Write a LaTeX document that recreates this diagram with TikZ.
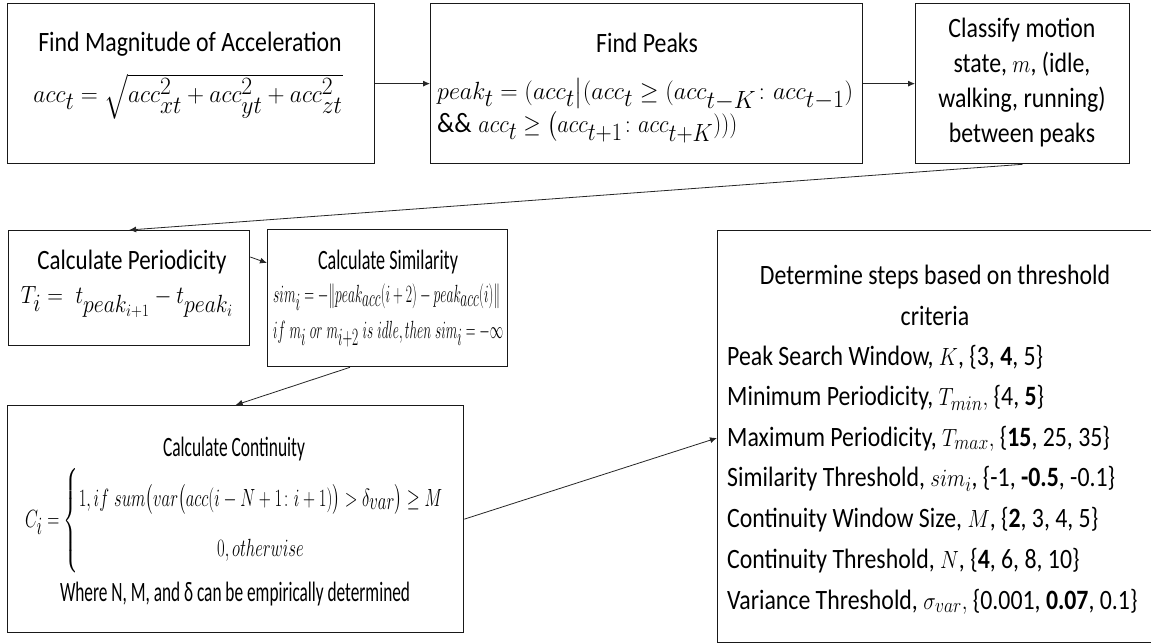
\documentclass[tikz,border=0pt]{standalone}
\usepackage{fontspec}
\setmainfont{Carlito}
\usepackage{amsmath}
\usepackage{graphicx}
\usetikzlibrary{arrows.meta}
\newcommand{\sq}[1]{\scalebox{0.85}[1]{#1}}
\newcommand{\fitw}[2]{\resizebox{#1pt}{\height}{#2}}
\tikzset{
  box/.style={draw=black!90, line width=1.3pt, inner sep=0pt, anchor=north west},
  ln/.style={inner sep=0pt, anchor=base, font=\fontsize{28}{34}\selectfont},
  lnl/.style={ln, anchor=base west},
  mth/.style={font=\fontsize{33}{40}\selectfont},
  conn/.style={draw=black!85, line width=0.8pt, -{Latex[length=7pt,width=6pt]}},
}
\begin{document}
\begin{tikzpicture}[x=1pt,y=-1pt]
\useasboundingbox[fill=white] (0,0) rectangle (1151,644);
% boxes
\node[box, minimum width=367pt, minimum height=160pt] (b1) at (7,3) {};
\node[box, minimum width=432pt, minimum height=160pt] (b2) at (430,3) {};
\node[box, minimum width=214pt, minimum height=160pt] (b3) at (915,3) {};
\node[box, minimum width=241pt, minimum height=115pt] (p) at (8,230) {};
\node[box, minimum width=240pt, minimum height=137pt] (s) at (267,229) {};
\node[box, minimum width=456pt, minimum height=227pt] (c) at (7,405) {};
\node[box, minimum width=448pt, minimum height=412pt] (th) at (717,230) {};
% box 1
\node[ln] (t1a) at (190,52) {\sq{Find Magnitude of Acceleration}};
\node[ln, mth] (t1b) at (188,103) {\fitw{309}{$acc_t = \sqrt{acc_{xt}^2+acc_{yt}^2+acc_{zt}^2}$}};
% box 2
\node[ln] (t2a) at (647,53) {\sq{Find Peaks}};
\node[lnl, mth] (t2b) at (437,100) {\fitw{416}{$peak_t = (acc_t\big|(acc_t \geq (acc_{t-K}\colon acc_{t-1})$}};
\node[lnl, mth] (t2c) at (437,133) {\fitw{300}{\fontsize{28}{34}\selectfont\&\&\fontsize{33}{40}\selectfont\ $acc_t \geq \big(acc_{t+1}\colon acc_{t+K})))$}};
% box 3
\node[ln] (t3a) at (1022,38) {\sq{Classify motion}};
\node[ln] (t3b) at (1022,73) {\sq{state, $m$, (idle,}};
\node[ln] (t3c) at (1022,108) {\sq{walking, running)}};
\node[ln] (t3d) at (1022,143) {\sq{between peaks}};
% periodicity
\node[ln] (tpa) at (132,270) {\fitw{189}{Calculate Periodicity}};
\node[ln, mth] (tpb) at (127,304) {\fitw{212}{$T_i =\ t_{peak_{i+1}} - t_{peak_i}$}};
% similarity
\node[ln] (tsa) at (388,270) {\fitw{140}{Calculate Similarity}};
\node[lnl, mth] (tsb) at (273,303) {\fitw{227}{$sim_i = -\|peak_{acc}(i+2) - peak_{acc}(i)\|$}};
\node[lnl, mth] (tsc) at (273,338) {\fitw{230}{$if\ m_i\ or\ m_{i+2}\ is\ idle, then\ sim_i = -\infty$}};
% continuity
\node[ln] (tca) at (234,456) {\fitw{142}{Calculate Continuity}};
\node[ln, mth, anchor=center] (tcb) at (234,521) {\fitw{418}{$C_i = \left\{\renewcommand{\arraystretch}{1.25}\begin{array}{@{}c@{}}
  1, if\ sum\big(var\big(acc(i-N+1\colon i+1)\big) > \delta_{var}\big) \geq M\\
  0, otherwise
  \end{array}\right.$}};
\node[ln] (tcc) at (235,601) {\fitw{350}{Where N, M, and δ can be empirically determined}};
% thresholds
\node[ln] (tta) at (935,285) {\sq{Determine steps based on threshold}};
\node[ln] (ttb) at (935,325) {\sq{criteria}};
\node[lnl] (tt1) at (727,365) {\sq{Peak Search Window, $K$, \{3, \textbf{4}, 5\}}};
\node[lnl] (tt2) at (727,405) {\sq{Minimum Periodicity, $T_{min},$ \{4, \textbf{5}\}}};
\node[lnl] (tt3) at (727,446) {\sq{Maximum Periodicity, $T_{max},$ \{\textbf{15}, 25, 35\}}};
\node[lnl] (tt4) at (727,486) {\sq{Similarity Threshold, $sim_i$, \{-1, \textbf{-0.5}, -0.1\}}};
\node[lnl] (tt5) at (727,527) {\sq{Continuity Window Size, $M$, \{\textbf{2}, 3, 4, 5\}}};
\node[lnl] (tt6) at (727,568) {\sq{Continuity Threshold, $N$, \{\textbf{4}, 6, 8, 10\}}};
\node[lnl] (tt7) at (727,609) {\sq{Variance Threshold, $\sigma_{var},$ \{0.001, \textbf{0.07}, 0.1\}}};
% connectors
\draw[conn] (b1.east) -- (b2.west);
\draw[conn] (b2.east) -- (b3.west);
\draw[conn] (b3.south) -- (p.north);
\draw[conn] ([yshift=-27pt]p.north east) -- ([yshift=-34pt]s.north west);
\draw[conn] ([xshift=83pt]s.south west) -- (c.north);
\draw[conn] (c.east) -- ([yshift=-208pt]th.north west);
\end{tikzpicture}
\end{document}
